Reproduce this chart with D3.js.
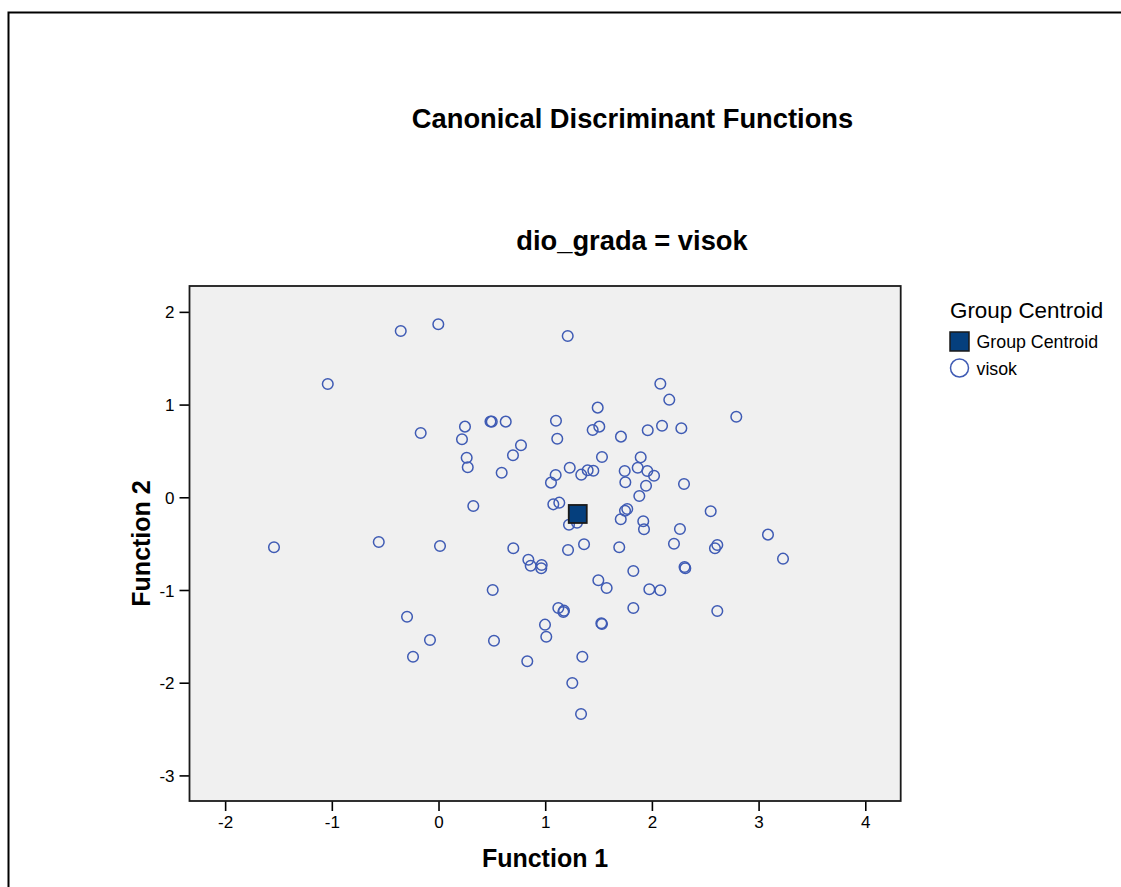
<!DOCTYPE html>
<html>
<head>
<meta charset="utf-8">
<script src="https://cdn.jsdelivr.net/npm/d3@7"></script>
<style>
  html, body { margin: 0; padding: 0; background: #fff; }
  svg { display: block; font-family: "Liberation Sans", Arial, Helvetica, sans-serif; }
</style>
</head>
<body>
<div id="chart"></div>
<script>
// ---- data ----
const chartTitle = "Canonical Discriminant Functions";
const subTitle = "dio_grada = visok";
const xLabel = "Function 1";
const yLabel = "Function 2";
const xTicks = [-2, -1, 0, 1, 2, 3, 4];
const yTicks = [2, 1, 0, -1, -2, -3];
const legendTitle = "Group Centroid";
const legendItems = ["Group Centroid", "visok"];

// case scores: Function 1 (x) and Function 2 (y)
const f1 = [
  -0.354, -0.002, 1.211, -1.038, 2.079, 2.163, 1.492, 2.791, 1.101, 0.499,
  0.487, 0.630, 0.248, -0.167, 1.507, 1.445, 1.113, 0.220, 0.773, 0.698,
  0.264, 0.274, 0.592, 1.710, 1.961, 2.095, 2.276, 1.532, 1.895, 1.230,
  1.098, 1.054, 1.338, 1.398, 1.451, 1.745, 1.751, 1.867, 1.957, 2.020,
  1.945, 1.882, 2.301, 0.326, 1.076, 1.132, 1.223, 1.298, 1.708, 1.748,
  1.769, 1.919, 1.926, 2.263, 2.551, 2.207, 1.694, 1.364, 1.214, 0.014,
  0.701, 0.842, 0.864, 0.967, 0.963, 1.826, 1.498, 1.576, 1.976, 2.079,
  1.826, 1.526, 1.532, 1.123, 1.176, 1.170, 0.998, 1.010, 0.508, 0.520,
  0.832, 1.348, 1.254, 1.336, 2.613, 2.591, 3.088, 3.229, 2.313, 2.306,
  2.613, -1.542, -0.560, -0.295, -0.080, -0.239
];
const f2 = [
  1.794, 1.866, 1.740, 1.222, 1.225, 1.053, 0.967, 0.869, 0.826, 0.816,
  0.818, 0.816, 0.762, 0.694, 0.762, 0.726, 0.632, 0.626, 0.561, 0.453,
  0.427, 0.324, 0.265, 0.654, 0.723, 0.772, 0.744, 0.435, 0.431, 0.319,
  0.241, 0.158, 0.244, 0.291, 0.287, 0.284, 0.162, 0.319, 0.284, 0.233,
  0.125, 0.014, 0.143, -0.094, -0.076, -0.058, -0.296, -0.274, -0.237, -0.145,
  -0.126, -0.259, -0.345, -0.342, -0.151, -0.501, -0.539, -0.507, -0.568, -0.525,
  -0.550, -0.673, -0.738, -0.730, -0.766, -0.795, -0.895, -0.978, -0.992, -1.003,
  -1.194, -1.359, -1.367, -1.194, -1.223, -1.237, -1.374, -1.504, -1.000, -1.547,
  -1.769, -1.720, -2.003, -2.338, -0.515, -0.550, -0.403, -0.662, -0.766, -0.752,
  -1.227, -0.539, -0.482, -1.288, -1.539, -1.720
];
const centroid = [1.305, -0.180];

// ---- layout ----
const W = 1121, H = 887;
const plot = { left: 189.5, right: 900.7, top: 286, bottom: 801 };
const pointColor = "#3f5bb4";
const centroidFill = "#053f7d";

const svg = d3.select("#chart").append("svg")
  .attr("width", W).attr("height", H);

// outer border (extends beyond the viewport on right/bottom)
svg.append("rect")
  .attr("x", 8.5).attr("y", 12.5)
  .attr("width", W + 20).attr("height", H + 20)
  .attr("fill", "#fff").attr("stroke", "#000").attr("stroke-width", 2);

const x = d3.scaleLinear().domain([-2.334, 4.332]).range([plot.left, plot.right]);
const y = d3.scaleLinear().domain([-3.276, 2.279]).range([plot.bottom, plot.top]);

// titles
svg.append("text").attr("x", 632.5).attr("y", 128)
  .attr("text-anchor", "middle").attr("font-size", 27.3).attr("font-weight", "bold")
  .text(chartTitle);
svg.append("text").attr("x", 632).attr("y", 250)
  .attr("text-anchor", "middle").attr("font-size", 27.3).attr("font-weight", "bold")
  .text(subTitle);

// plot background
svg.append("rect")
  .attr("x", plot.left).attr("y", plot.top)
  .attr("width", plot.right - plot.left).attr("height", plot.bottom - plot.top)
  .attr("fill", "#f0f0f0");

// axes (plain hyphen-minus labels as in the original)
const fmt = d => String(d);
const xAxis = d3.axisBottom(x).tickValues(xTicks).tickSize(10).tickPadding(5).tickFormat(fmt);
const yAxis = d3.axisLeft(y).tickValues(yTicks).tickSize(10).tickPadding(5).tickFormat(fmt);

const gx = svg.append("g").attr("transform", `translate(0,${plot.bottom})`).call(xAxis);
const gy = svg.append("g").attr("transform", `translate(${plot.left},0)`).call(yAxis);
[gx, gy].forEach(g => {
  g.select(".domain").remove();
  g.selectAll(".tick line").attr("stroke", "#000").attr("stroke-width", 1.6);
  g.selectAll(".tick text").attr("font-size", 17).attr("fill", "#000")
    .attr("font-family", "\"Liberation Sans\", Arial, sans-serif");
});
gy.selectAll(".tick text").attr("dy", "0.36em");

// frame
svg.append("rect")
  .attr("x", plot.left).attr("y", plot.top)
  .attr("width", plot.right - plot.left).attr("height", plot.bottom - plot.top)
  .attr("fill", "none").attr("stroke", "#1a1a1a").attr("stroke-width", 1.8);

// axis titles
svg.append("text").attr("x", (plot.left + plot.right) / 2).attr("y", 867)
  .attr("text-anchor", "middle").attr("font-size", 25).attr("font-weight", "bold")
  .text(xLabel);
svg.append("text")
  .attr("transform", `translate(150,${(plot.top + plot.bottom) / 2}) rotate(-90)`)
  .attr("text-anchor", "middle").attr("font-size", 25).attr("font-weight", "bold")
  .text(yLabel);

// points
const pts = f1.map((v, i) => ({ fx: v, fy: f2[i] }));
svg.append("g").selectAll("circle").data(pts).join("circle")
  .attr("cx", d => x(d.fx)).attr("cy", d => y(d.fy))
  .attr("r", 5.3)
  .attr("fill", "none").attr("stroke", pointColor).attr("stroke-width", 1.5);

// centroid
const cs = 18;
svg.append("rect")
  .attr("x", x(centroid[0]) - cs / 2).attr("y", y(centroid[1]) - cs / 2)
  .attr("width", cs).attr("height", cs)
  .attr("fill", centroidFill).attr("stroke", "#1a1a1a").attr("stroke-width", 1.8);

// legend
const lg = svg.append("g");
lg.append("text").attr("x", 950).attr("y", 318).attr("font-size", 22.4).text(legendTitle);
legendItems.forEach((name, i) => {
  const cy = 341.5 + i * 26.5;
  if (i === 0) {
    lg.append("rect").attr("x", 950).attr("y", cy - 9.5).attr("width", 19).attr("height", 19)
      .attr("fill", centroidFill).attr("stroke", "#1a1a1a").attr("stroke-width", 1.5);
  } else {
    lg.append("circle").attr("cx", 959.5).attr("cy", cy).attr("r", 9)
      .attr("fill", "none").attr("stroke", pointColor).attr("stroke-width", 1.5);
  }
  lg.append("text").attr("x", 976.5).attr("y", cy + 6.5).attr("font-size", 17.8).text(name);
});
</script>
</body>
</html>
